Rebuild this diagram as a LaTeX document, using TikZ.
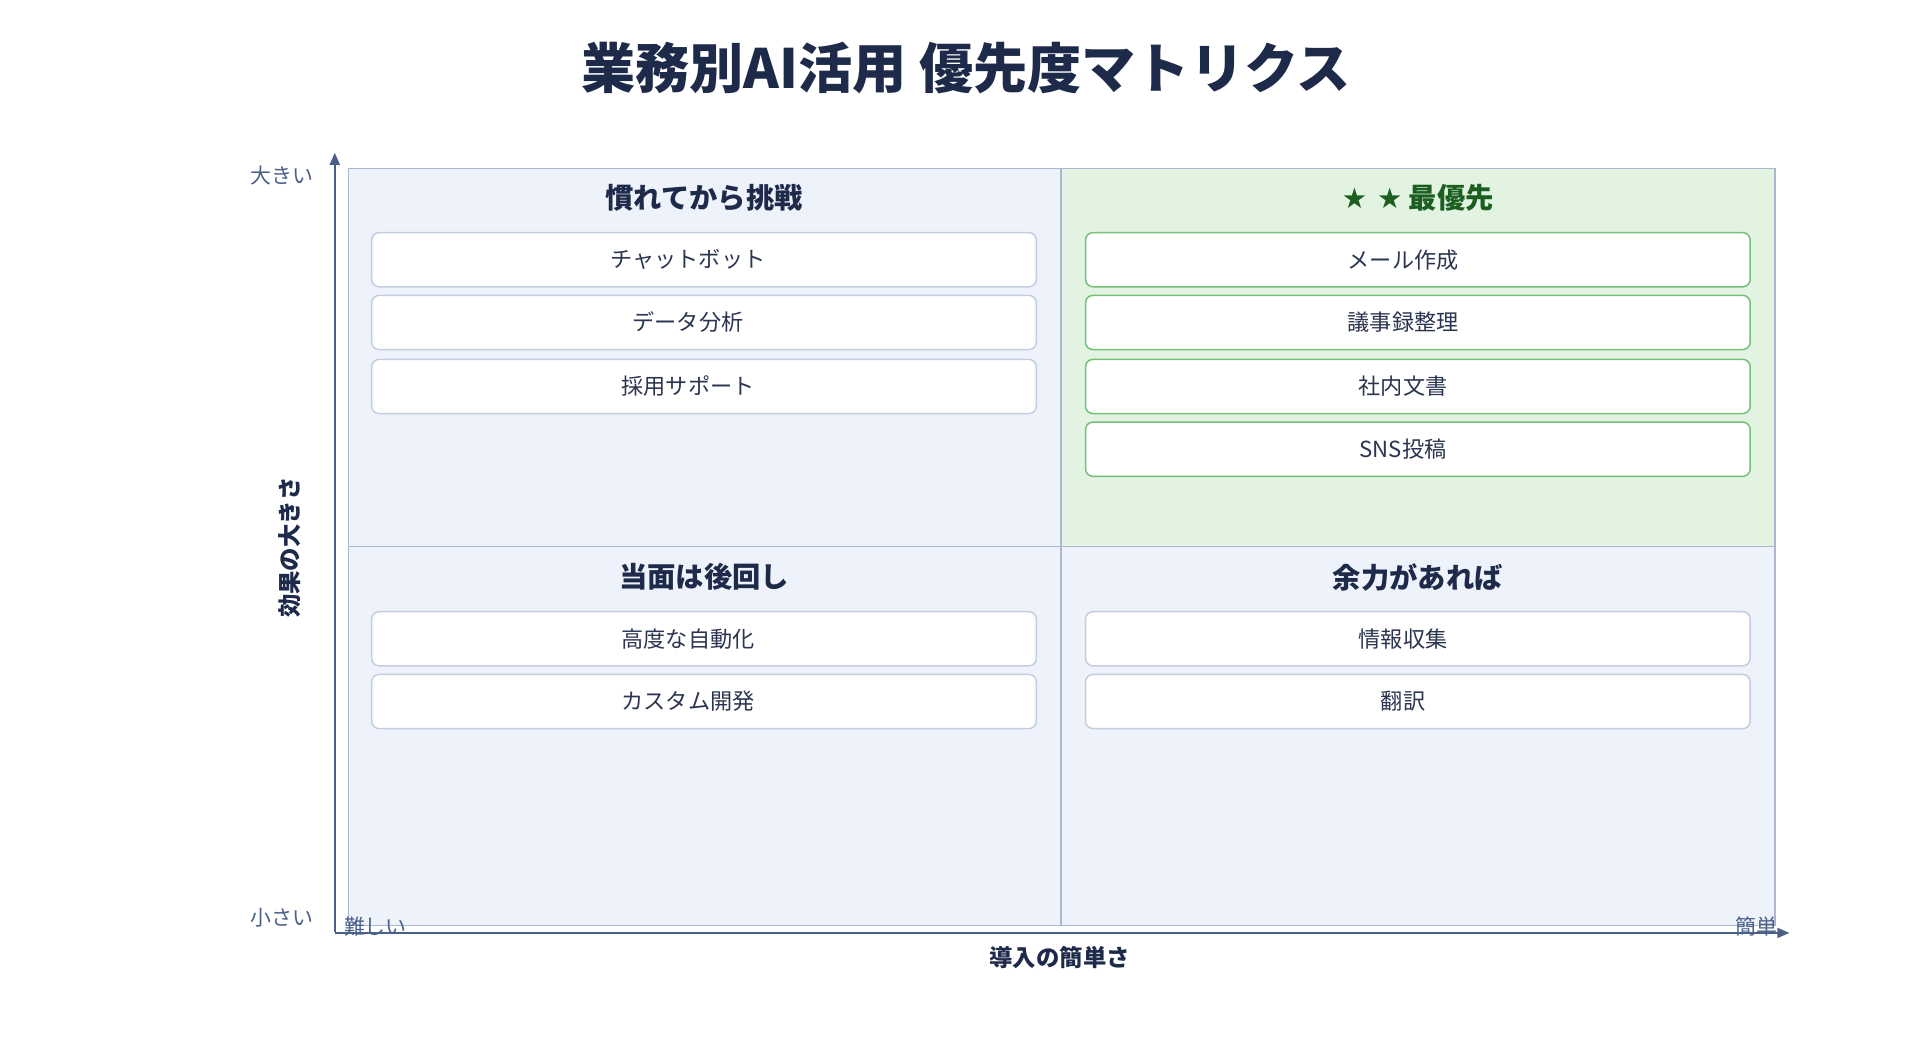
\documentclass[tikz,border=0pt]{standalone}
\usepackage{fontspec}
\setmainfont{Noto Sans CJK JP}
\usetikzlibrary{arrows.meta}
\definecolor{navy}{HTML}{1E2A4A}
\definecolor{axisc}{HTML}{4A6088}
\definecolor{qfill}{HTML}{EEF2FB}
\definecolor{qline}{HTML}{A9B7CF}
\definecolor{gfill}{HTML}{E2F4E1}
\definecolor{gline}{HTML}{74C077}
\definecolor{gtext}{HTML}{1B5E20}
\definecolor{iline}{HTML}{C4CCDE}
\definecolor{itext}{HTML}{2B3450}
\begin{document}
\begin{tikzpicture}[x=1pt,y=-1pt,
  item/.style={draw=iline,line width=1.2pt,fill=white,rounded corners=6pt,minimum width=540pt,minimum height=44pt,inner sep=0pt},
  gitem/.style={item,draw=gline},
  itemtxt/.style={font=\fontsize{18}{20}\selectfont,text=itext},
  qtitle/.style={font=\fontsize{23}{26}\selectfont\bfseries,text=navy},
  axlab/.style={font=\fontsize{17}{20}\selectfont,text=axisc}]
\useasboundingbox (0,0) rectangle (1560,850.6);
\node[font=\fontsize{44}{50}\selectfont\bfseries,text=navy] (title) at (785,55) {業務別AI活用 優先度マトリクス};
% quadrants
\fill[qfill] (283,137) rectangle (1442,752);
\fill[gfill] (862,137) rectangle (1442,444);
\draw[qline,line width=1.2pt] (283,137) rectangle (1442,752);
\draw[qline,line width=1.5pt] (862,137) -- (862,752);
\draw[qline,line width=1.5pt] (283,444) -- (1442,444);
% axes
\coordinate (o) at (272,758);
\coordinate (ytop) at (272,124);
\coordinate (xend) at (1454,758);
\draw[axisc,line width=2pt,-{Triangle[length=10pt,width=8pt]}] (272,757) -- (ytop);
\draw[axisc,line width=2pt,-{Triangle[length=10pt,width=8pt]}] (o) -- (xend);
\node[axlab] (big) at (229,143) {大きい};
\node[axlab] (small) at (229,746) {小さい};
\node[axlab] (hard) at (305,753) {難しい};
\node[axlab] (easy) at (1427,753) {簡単};
\node[font=\fontsize{19}{22}\selectfont\bfseries,text=navy] (xl) at (861,778) {導入の簡単さ};
\node[font=\fontsize{19}{22}\selectfont\bfseries,text=navy,rotate=90] (yl) at (235,445) {効果の大きさ};
% titles
\node[qtitle] (t1) at (572,161) {慣れてから挑戦};
\node[qtitle,text=gtext] (t2) at (1152,161) {{\fontspec{DejaVu Sans}★ ★} 最優先};
\node[qtitle] (t3) at (572,469) {当面は後回し};
\node[qtitle] (t4) at (1152,469) {余力があれば};
% items
\foreach \n/\y/\t in {a/211/チャットボット,b/262/データ分析,c/314/採用サポート,d/519/高度な自動化,e/570/カスタム開発}{
  \node[item] (\n) at (572,\y) {};
  \node[itemtxt] (\n t) at (559,\y) {\t};
}
\foreach \n/\y/\t in {f/519/情報収集,g/570/翻訳}{
  \node[item] (\n) at (1152,\y) {};
  \node[itemtxt] (\n t) at (1140,\y) {\t};
}
\foreach \n/\y/\t in {h/211/メール作成,i/262/議事録整理,j/314/社内文書,k/365/SNS投稿}{
  \node[gitem] (\n) at (1152,\y) {};
  \node[itemtxt] (\n t) at (1140,\y) {\t};
}
\end{tikzpicture}
\end{document}
